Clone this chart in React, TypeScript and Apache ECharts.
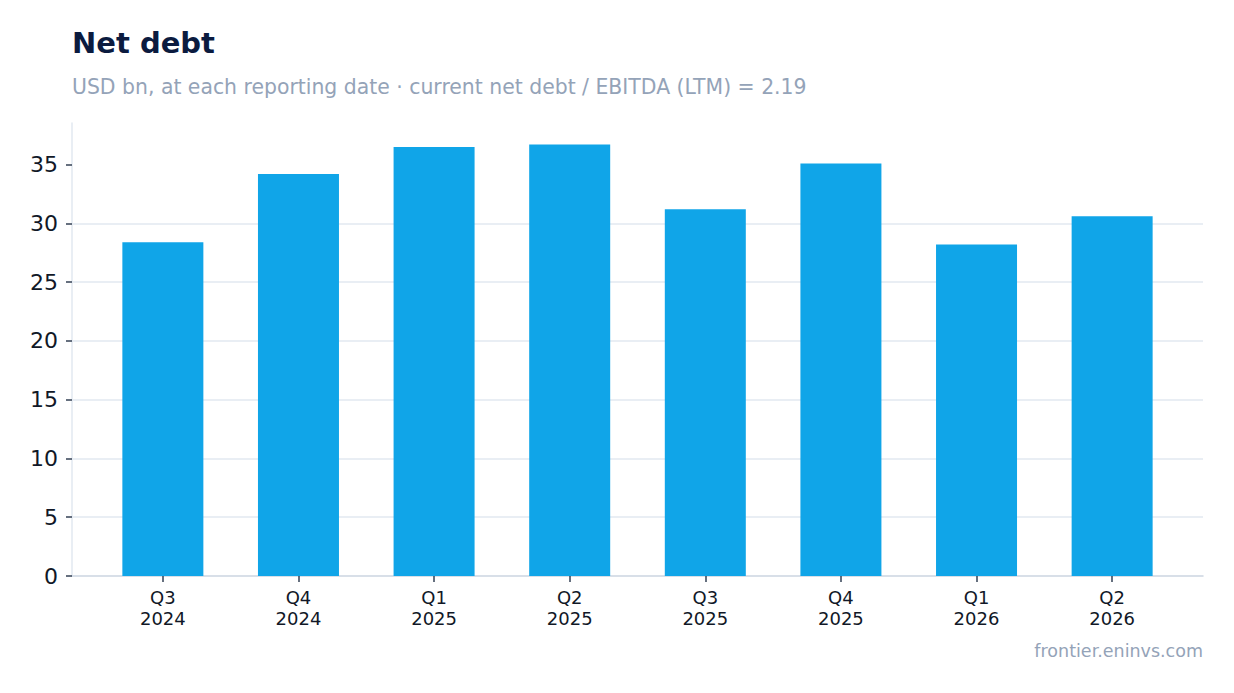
import * as echarts from "echarts"
import { useEffect, useRef } from "react"

const categories = ["Q3 2024", "Q4 2024", "Q1 2025", "Q2 2025", "Q3 2025", "Q4 2025", "Q1 2026", "Q2 2026"]
const netDebt = [28.4, 34.2, 36.5, 36.7, 31.2, 35.1, 28.2, 30.6]
const yTicks = [0, 5, 10, 15, 20, 25, 30, 35]

const TITLE = "Net debt"
const SUBTITLE = "USD bn, at each reporting date · current net debt / EBITDA (LTM) = 2.19"
const SOURCE = "frontier.eninvs.com"

const FONT = "DejaVu Sans"

export default function App(): React.ReactElement {
  const ref = useRef<HTMLDivElement>(null)

  useEffect(() => {
    const node = ref.current
    if (!node) return
    const chart = echarts.init(node, undefined, { renderer: "svg", width: 1234, height: 693 })

    const xIdx = categories.map((_, i) => i)
    const pad = 0.67

    chart.setOption({
      animation: false,
      backgroundColor: "#ffffff",
      textStyle: { fontFamily: FONT },
      title: [
        {
          text: TITLE,
          left: 72,
          top: 28,
          padding: 0,
          textStyle: { fontFamily: FONT, fontSize: 29, fontWeight: "bold", color: "#0b1b3f" },
        },
        {
          text: SUBTITLE,
          left: 72,
          top: 77,
          padding: 0,
          textStyle: { fontFamily: FONT, fontSize: 20.4, fontWeight: "normal", color: "#94a3b8" },
        },
      ],
      graphic: [
        {
          type: "text",
          right: 31,
          top: 642,
          style: { text: SOURCE, font: `17.5px ${FONT}`, fill: "#94a3b8" },
        },
      ],
      grid: { left: 72, right: 31, top: 123, bottom: 117 },
      xAxis: {
        type: "value",
        min: -pad,
        max: categories.length - 1 + pad,
        axisLine: { show: true, onZero: false, lineStyle: { color: "#cbd5e1", width: 1.5 } },
        axisTick: {
          show: true,
          customValues: xIdx,
          length: 6,
          lineStyle: { color: "#334155", width: 1.5 },
        },
        axisLabel: {
          customValues: xIdx,
          margin: 11,
          fontFamily: FONT,
          fontSize: 18,
          lineHeight: 21,
          color: "#111827",
          formatter: (v: number) => (categories[Math.round(v)] ?? "").replace(" ", "\n"),
        },
        splitLine: { show: false },
      },
      yAxis: {
        type: "value",
        min: 0,
        max: Math.max(...netDebt) * 1.05,
        axisLine: { show: true, onZero: false, lineStyle: { color: "#e2e8f0", width: 1.5 } },
        axisTick: {
          show: true,
          customValues: yTicks,
          length: 6,
          lineStyle: { color: "#334155", width: 1.5 },
        },
        axisLabel: {
          customValues: yTicks,
          margin: 14,
          fontFamily: FONT,
          fontSize: 22,
          color: "#111827",
        },
        splitLine: { show: true, showMaxLine: false, showMinLine: false, lineStyle: { color: "#e2e8f0", width: 1.5 } },
      },
      series: [
        {
          type: "bar",
          data: netDebt.map((v, i) => [i, v]),
          barWidth: 81,
          itemStyle: { color: "#10a5e8" },
        },
      ],
    })

    return () => chart.dispose()
  }, [])

  return (
    <div
      ref={ref}
      style={{ position: "absolute", left: 0, top: 0, width: 1234, height: 693 }}
    />
  )
}
